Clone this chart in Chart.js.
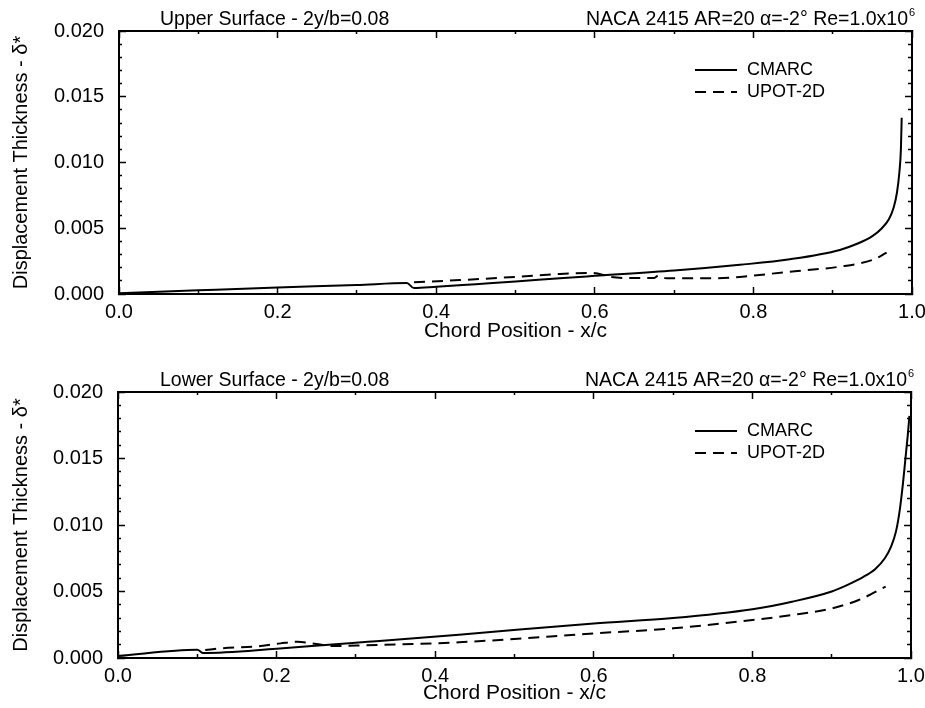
<!DOCTYPE html>
<html>
<head>
<meta charset="utf-8">
<title>NACA 2415 displacement thickness</title>
<script src="https://cdn.jsdelivr.net/npm/chart.js@4.4.1/dist/chart.umd.min.js"></script>
<style>
    html, body { margin: 0; padding: 0; background: #fff; }
    #wrap { position: relative; width: 925px; height: 708px; }
    #wrap canvas { position: absolute; left: 0; top: 0; }
</style>
</head>
<body>
<div id="wrap">
    <canvas id="upperChart" width="925" height="708"></canvas>
    <canvas id="lowerChart" width="925" height="708"></canvas>
</div>
<script>
/** 上表面 CMARC */
var upperCmarcX = [0, 0.1, 0.2, 0.3, 0.363, 0.372, 0.4, 0.45, 0.5, 0.556, 0.6, 0.7, 0.783, 0.846, 0.909, 0.93, 0.95, 0.962, 0.971, 0.977, 0.981, 0.984, 0.986, 0.987]
var upperCmarcY = [0.00005, 0.00028, 0.0005, 0.00068, 0.00083, 0.00045, 0.00055, 0.00075, 0.00095, 0.0012, 0.00138, 0.00178, 0.00222, 0.00264, 0.00335, 0.0038, 0.0044, 0.005, 0.0057, 0.0066, 0.0077, 0.0092, 0.011, 0.0134]
/** 上表面 UPOT-2D */
var upperUpotX = [0.372, 0.43, 0.5, 0.556, 0.598, 0.62, 0.64, 0.675, 0.68, 0.69, 0.75, 0.783, 0.846, 0.909, 0.95, 0.968]
var upperUpotY = [0.00089, 0.00106, 0.0013, 0.00152, 0.0016, 0.0013, 0.00122, 0.00122, 0.0014, 0.0012, 0.0012, 0.0013, 0.0017, 0.00208, 0.00259, 0.00314]
/** 下表面 CMARC */
var lowerCmarcX = [0, 0.1, 0.107, 0.2, 0.27, 0.315, 0.43, 0.6, 0.7, 0.8, 0.85, 0.9, 0.92, 0.94, 0.955, 0.967, 0.975, 0.981, 0.986, 0.99, 0.993, 0.996, 0.998]
var lowerCmarcY = [0.00015, 0.00062, 0.00038, 0.0007, 0.00102, 0.00122, 0.00175, 0.0026, 0.003, 0.00366, 0.00423, 0.005, 0.0055, 0.0061, 0.0067, 0.0075, 0.0084, 0.0095, 0.0112, 0.0132, 0.015, 0.0168, 0.0182]
/** 下表面 UPOT-2D */
var lowerUpotX = [0.11, 0.13, 0.18, 0.205, 0.226, 0.25, 0.27, 0.31, 0.43, 0.6, 0.7, 0.8, 0.85, 0.9, 0.934, 0.968]
var lowerUpotY = [0.0006, 0.00073, 0.0009, 0.0011, 0.00123, 0.00105, 0.0009, 0.00095, 0.00118, 0.00185, 0.00223, 0.00286, 0.00323, 0.00373, 0.00436, 0.00536]

/** 坐标轴 */
var xMin = 0, xMax = 1, xStep = 0.1
var yMin = 0, yMax = 0.02, yStep = 0.001
var seriesNames = ['CMARC', 'UPOT-2D']
var rightTitle = 'NACA 2415 AR=20 \u03b1=-2\u00b0 Re=1.0x10'
var rightTitleSup = '6'

var FONT = '"Liberation Sans", Arial, Helvetica, sans-serif'

var panels = {
    funcs: {
        toPoints: function (xs, ys) {
            var pts = []
            xs.forEach(function (x, i) {
                pts.push({x: x, y: ys[i]})
            })
            return pts
        },
        isMajorX: function (v) {
            return Math.round(v * 10) % 2 === 0
        },
        isMajorY: function (v) {
            return Math.round(v * 1000) % 5 === 0
        },
        /** 刻度朝里, 次刻度用虚线截短 */
        tickDash: function (isMajor, startsInside) {
            return function (c) {
                if (!c.tick || isMajor(c.tick.value)) return []
                return startsInside ? [0, 4, 10, 100] : [5, 100]
            }
        },
        fixSize: function (size, horizontal) {
            return function (scale) {
                if (horizontal) scale.height = size
                else scale.width = size
                scale.paddingLeft = 0
                scale.paddingRight = 0
                scale.paddingTop = 0
                scale.paddingBottom = 0
            }
        },
        axis: function (pos, cfg) {
            var horizontal = pos === 'top' || pos === 'bottom'
            var isMajor = horizontal ? panels.funcs.isMajorX : panels.funcs.isMajorY
            var startsInside = pos === 'top' || pos === 'left'
            var labelled = pos === 'bottom' || pos === 'left'
            return {
                type: 'linear',
                position: pos,
                min: horizontal ? xMin : yMin,
                max: horizontal ? xMax : yMax,
                afterFit: panels.funcs.fixSize(cfg.size, horizontal),
                border: {display: true, color: '#000', width: 2},
                grid: {
                    drawOnChartArea: false,
                    drawTicks: true,
                    tickLength: -7,
                    tickColor: '#000',
                    tickWidth: 1.5,
                    tickBorderDash: panels.funcs.tickDash(isMajor, startsInside)
                },
                ticks: {
                    display: labelled,
                    stepSize: horizontal ? xStep : yStep,
                    autoSkip: false,
                    maxRotation: 0,
                    minRotation: 0,
                    padding: horizontal ? 13 : 22,
                    color: '#000',
                    font: {family: FONT, size: 20},
                    callback: function (v) {
                        if (!isMajor(v)) return ''
                        return horizontal ? v.toFixed(1) : v.toFixed(3)
                    }
                },
                title: {
                    display: labelled,
                    text: horizontal ? 'Chord Position - x/c' : 'Displacement Thickness - \u03b4*',
                    color: '#000',
                    font: {family: FONT, size: horizontal ? 21 : 20},
                    padding: horizontal ? {top: 0, bottom: cfg.titlePad} : {top: 9, bottom: 0}
                }
            }
        },
        /** 标题和图例 */
        textPlugin: {
            id: 'panelText',
            afterDraw: function (chart, args, opts) {
                var ctx = chart.ctx
                var area = chart.chartArea
                ctx.save()
                ctx.fillStyle = '#000'
                ctx.textBaseline = 'middle'
                ctx.font = '19.5px ' + FONT
                ctx.textAlign = 'left'
                ctx.fillText(opts.leftTitle, 160, area.top - 11)
                ctx.textAlign = 'right'
                ctx.fillText(rightTitle, area.right - 4, area.top - 11)
                ctx.font = '11px ' + FONT
                ctx.textAlign = 'left'
                ctx.fillText(rightTitleSup, area.right - 3, area.top - 18)

                chart.data.datasets.forEach(function (ds, i) {
                    var y = area.top + 39 + i * 22
                    ctx.beginPath()
                    ctx.setLineDash(ds.borderDash || [])
                    ctx.lineWidth = 2
                    ctx.strokeStyle = '#000'
                    ctx.moveTo(695, y)
                    ctx.lineTo(737, y)
                    ctx.stroke()
                    ctx.setLineDash([])
                    ctx.font = '18px ' + FONT
                    ctx.fillText(ds.label, 747, y)
                })
                ctx.restore()
            }
        },
        createChart: function (id, cfg) {
            var ctx = document.getElementById(id).getContext('2d')
            return new Chart(ctx, {
                type: 'line',
                data: {
                    datasets: [
                        {
                            label: seriesNames[0],
                            data: panels.funcs.toPoints(cfg.cmarcX, cfg.cmarcY),
                            borderColor: '#000',
                            borderWidth: 2,
                            pointRadius: 0,
                            fill: false,
                            cubicInterpolationMode: 'monotone'
                        },
                        {
                            label: seriesNames[1],
                            data: panels.funcs.toPoints(cfg.upotX, cfg.upotY),
                            borderColor: '#000',
                            borderWidth: 2,
                            borderDash: [11, 7],
                            pointRadius: 0,
                            fill: false,
                            cubicInterpolationMode: 'monotone'
                        }
                    ]
                },
                options: {
                    responsive: false,
                    animation: false,
                    devicePixelRatio: 1,
                    layout: {
                        padding: {left: 0, top: cfg.top, right: 925 - cfg.right, bottom: cfg.padBottom}
                    },
                    scales: {
                        x: panels.funcs.axis('bottom', {size: cfg.xAxisH, titlePad: cfg.titlePad}),
                        y: panels.funcs.axis('left', {size: cfg.left}),
                        x2: panels.funcs.axis('top', {size: 0}),
                        y2: panels.funcs.axis('right', {size: 0})
                    },
                    plugins: {
                        legend: {display: false},
                        tooltip: {enabled: false},
                        panelText: {leftTitle: cfg.leftTitle}
                    }
                },
                plugins: [panels.funcs.textPlugin]
            })
        }
    }
}

panels.funcs.createChart('upperChart', {
    leftTitle: 'Upper Surface - 2y/b=0.08',
    cmarcX: upperCmarcX, cmarcY: upperCmarcY,
    upotX: upperUpotX, upotY: upperUpotY,
    left: 119, right: 912, top: 31,
    xAxisH: 60, padBottom: 708 - 294 - 60, titlePad: 10
})
panels.funcs.createChart('lowerChart', {
    leftTitle: 'Lower Surface - 2y/b=0.08',
    cmarcX: lowerCmarcX, cmarcY: lowerCmarcY,
    upotX: lowerUpotX, upotY: lowerUpotY,
    left: 118, right: 911, top: 392,
    xAxisH: 48, padBottom: 708 - 658 - 48, titlePad: 0
})
</script>
</body>
</html>
